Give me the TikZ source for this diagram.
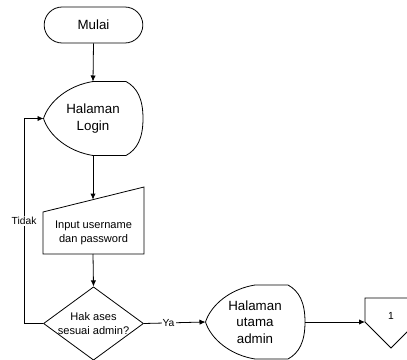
\documentclass[tikz,border=0pt]{standalone}
\usepackage{fontspec}
\setmainfont{Liberation Sans}
\usetikzlibrary{shapes.geometric,shapes.misc,arrows.meta}

\tikzset{
  flowline/.style={line width=0.6pt},
  arr/.style={flowline,-{Latex[length=4.5pt,width=4pt]}},
  bigtext/.style={font=\fontsize{10}{12.2}\selectfont,align=center,inner sep=0pt},
  smalltext/.style={font=\fontsize{8.3}{10}\selectfont,align=center,inner sep=0pt},
  tlabel/.style={font=\fontsize{7.7}{9}\selectfont,fill=white,inner sep=0.8pt},
  pics/display/.style={code={
    \draw[flowline] (0,-37) -- (33,-37)
      .. controls (44,-31) and (50,-20) .. (50,0)
      .. controls (50,20) and (44,31) .. (33,37)
      -- (0,37)
      .. controls (-25,33) and (-44,17) .. (-49.5,0)
      .. controls (-44,-17) and (-25,-33) .. (0,-37) -- cycle;
    \node[bigtext] (-text) at (0,0) {#1};
    \coordinate (-top) at (0,-37);
    \coordinate (-bottom) at (0,37);
    \coordinate (-left) at (-49.5,0);
    \coordinate (-right) at (50,0);
  }}
}

\begin{document}
\begin{tikzpicture}[x=0.75pt,y=-0.75pt]
\useasboundingbox (0,0) rectangle (407,360);
\clip (0,0) rectangle (407,360);

% start
\node[rounded rectangle,draw,flowline,minimum width=74pt,minimum height=27pt,bigtext] (mulai) at (93.5,25) {Mulai};

% login page
\pic (login) at (93,118.5) {display={Halaman\\Login}};

% manual input
\draw[flowline] (43,212) -- (144,187) -- (144,254) -- (43,254) -- cycle;
\coordinate (inputtop) at (93,199.6);
\coordinate (inputbottom) at (93,254);
\node[smalltext] (input) at (93.5,233) {Input username\\dan password};

% decision
\node[diamond,draw,flowline,minimum width=75pt,minimum height=55pt,inner sep=0pt,
  label={[smalltext]center:Hak ases\\sesuai admin?}] (cek) at (93.5,323.5) {};

% admin page
\pic (admin) at (255,322) {display={Halaman\\utama\\admin}};

% off-page connector
\draw[flowline] (365,298) -- (417,298) -- (417,322) -- (391,348) -- (365,322) -- cycle;
\coordinate (offleft) at (365,322);
\node[tlabel,fill=none] (off) at (391,316) {1};

% connectors
\draw[arr] (mulai.south) -- (login-top);
\draw[arr] (login-bottom) -- (inputtop);
\draw[arr] (inputbottom) -- (cek.north);
\draw[arr] (cek.west) -- ++(-19,0) |- node[pos=0.25,tlabel] {Tidak} (login-left);
\draw[arr] (cek.east) -- node[pos=0.4,tlabel] {Ya} (admin-left);
\draw[arr] (admin-right) -- (offleft);

\end{tikzpicture}
\end{document}
